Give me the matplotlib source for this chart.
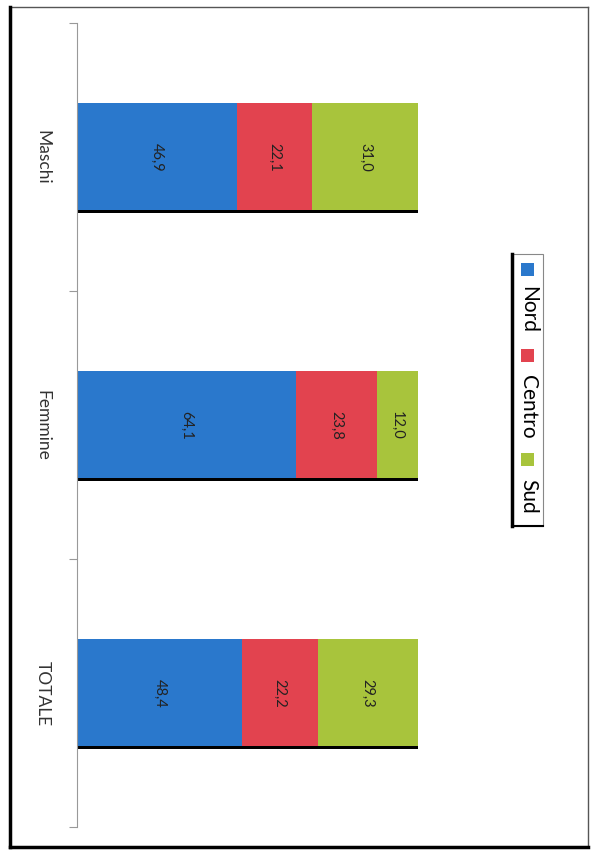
import matplotlib.pyplot as plt
import matplotlib.patheffects as pe
from matplotlib.lines import Line2D
from matplotlib.patches import Rectangle

plt.rcParams['font.family'] = ['Lato', 'DejaVu Sans']

categories = ['Maschi', 'Femmine', 'TOTALE']
nord = [46.9, 64.1, 48.4]
centro = [22.1, 23.8, 22.2]
sud = [31.0, 12.0, 29.3]
series_names = ['Nord', 'Centro', 'Sud']
colors = ['#2a78cc', '#e2434f', '#a8c43c']

W, H = 596, 854
fig = plt.figure(figsize=(W / 100, H / 100), dpi=100)
fig.patch.set_facecolor('white')

# axes placed in pixel terms: value axis runs left->right, categories top->bottom
ax = fig.add_axes([77 / W, 1 - 827.5 / H, (418 - 77) / W, (827.5 - 23.5) / H])
ax.set_xlim(0, 100)
ax.set_ylim(2.5, -0.5)

ypos = list(range(len(categories)))
shadow = [pe.SimplePatchShadow(offset=(0, -1.8), shadow_rgbFace='black', alpha=1.0), pe.Normal()]
left = [0, 0, 0]
for vals, col in zip([nord, centro, sud], colors):
    bars = ax.barh(ypos, vals, left=left, height=0.4, color=col, edgecolor='none')
    for b, v, l in zip(bars, vals, left):
        b.set_path_effects(shadow)
        ax.text(l + v / 2, b.get_y() + b.get_height() / 2, ('%.1f' % v).replace('.', ','),
                rotation=-90, ha='center', va='center', fontsize=10.5, color='#222222')
    left = [a + b for a, b in zip(left, vals)]

for s in ['top', 'right', 'bottom']:
    ax.spines[s].set_visible(False)
ax.spines['left'].set_color('#999999')
ax.spines['left'].set_linewidth(0.8)
ax.set_xticks([])
ax.set_yticks(ypos)
ax.set_yticklabels(categories, rotation=-90, va='center', ha='center', fontsize=12.5, color='#333333')
ax.tick_params(axis='y', which='major', length=0, pad=25)
ax.set_yticks([-0.5, 0.5, 1.5, 2.5], minor=True)
ax.tick_params(axis='y', which='minor', length=6, color='#999999', width=0.8)

# legend drawn by hand (rotated text)
lx0, lx1, ly0, ly1 = 512, 543, 255, 527
fig.patches.append(Rectangle((lx0 / W, 1 - ly1 / H), (lx1 - lx0) / W, (ly1 - ly0) / H,
                             transform=fig.transFigure, facecolor='white', edgecolor='#888888', lw=0.8))
fig.add_artist(Line2D([lx0 / W, lx0 / W], [1 - ly0 / H, 1 - ly1 / H], transform=fig.transFigure,
                      color='black', lw=2.5))
fig.add_artist(Line2D([lx0 / W, lx1 / W], [1 - ly1 / H, 1 - ly1 / H], transform=fig.transFigure,
                      color='black', lw=1.5))
sq_y = [270, 356, 460]
txt_y = [310, 407, 496]
for name, col, sy, ty in zip(series_names, colors, sq_y, txt_y):
    fig.patches.append(Rectangle((521 / W, 1 - (sy + 6.5) / H), 13 / W, 13 / H,
                                 transform=fig.transFigure, facecolor=col, edgecolor='none'))
    fig.text(528 / W, 1 - ty / H, name, rotation=-90, ha='center', va='center', fontsize=15, color='black')

# outer frame with heavy left/bottom edges
fx0, fx1, fy0, fy1 = 10, 588, 8, 848
fig.add_artist(Line2D([fx0 / W, fx1 / W], [1 - fy0 / H, 1 - fy0 / H], transform=fig.transFigure,
                      color='#555555', lw=1.0))
fig.add_artist(Line2D([fx1 / W, fx1 / W], [1 - fy0 / H, 1 - fy1 / H], transform=fig.transFigure,
                      color='#555555', lw=1.0))
fig.add_artist(Line2D([fx0 / W, fx0 / W], [1 - fy0 / H, 1 - fy1 / H], transform=fig.transFigure,
                      color='black', lw=2.5))
fig.add_artist(Line2D([fx0 / W, fx1 / W], [1 - fy1 / H, 1 - fy1 / H], transform=fig.transFigure,
                      color='black', lw=2.5))

fig.savefig('out.png', dpi=100)
